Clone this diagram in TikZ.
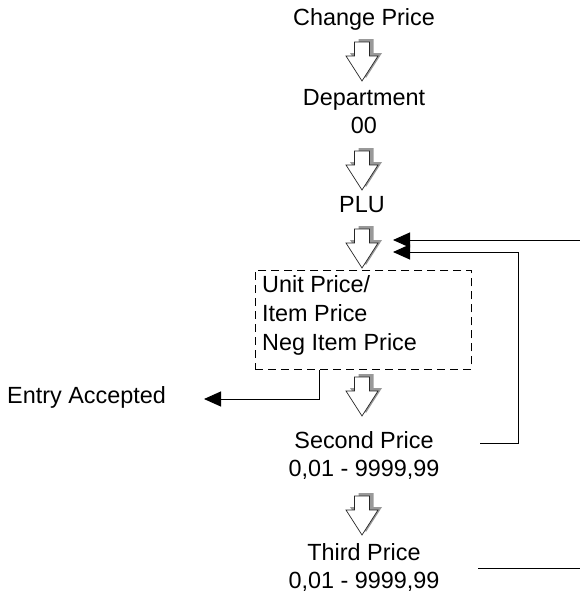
\documentclass[tikz,border=0pt]{standalone}
\usepackage{fontspec}
\setmainfont{Liberation Sans}
\usetikzlibrary{arrows.meta}
\begin{document}
\begin{tikzpicture}[x=1pt,y=-1pt,
  lbl/.style={inner sep=0pt, font=\fontsize{23.4}{28}\selectfont},
  conn/.style={line width=1pt, draw=black},
  tipped/.style={-{Triangle[length=17pt,width=15pt]}},
  dashbox/.style={draw=black, line width=0.9pt, dash pattern=on 8pt off 5pt, inner sep=0pt},
  barrow/.pic={
    \begin{scope}[shift={(4,-3)}]
      \fill[black!40] (-7.5,0) -- (7.5,0) -- (7.5,14) -- (16,14) -- (0,39) -- (-16,14) -- (-7.5,14) -- cycle;
    \end{scope}
    \filldraw[fill=white, draw=black!85, line width=0.7pt]
      (-7.5,0) -- (7.5,0) -- (7.5,14) -- (16,14) -- (0,39) -- (-16,14) -- (-7.5,14) -- cycle;
  }]
\useasboundingbox (0,0) rectangle (580,597);

% texts
\node[lbl, anchor=base] (cp) at (364,25) {Change Price};
\node[lbl, anchor=base] (dept) at (364,105) {\begin{tabular}[t]{@{}c@{}}Department\\00\end{tabular}};
\node[lbl, anchor=base] (plu) at (362,212) {PLU};
\node[dashbox, anchor=north west, minimum width=216pt, minimum height=99pt] (box) at (255,270) {};
\node[inner sep=0pt, font=\fontsize{23.4}{29}\selectfont, anchor=base west] (boxtext) at (262,292)
  {\begin{tabular}[t]{@{}l@{}}Unit Price/\\Item Price\\Neg Item Price\end{tabular}};
\node[lbl, anchor=base] (sp) at (364,448) {\begin{tabular}[t]{@{}c@{}}Second Price\\0,01 - 9999,99\end{tabular}};
\node[lbl, anchor=base] (tp) at (364,560) {\begin{tabular}[t]{@{}c@{}}Third Price\\0,01 - 9999,99\end{tabular}};
\node[lbl, anchor=base west] (ea) at (7,403) {Entry Accepted};

% block arrows
\pic at (362,42) {barrow};
\pic at (362,151) {barrow};
\pic at (362,229) {barrow};
\pic at (362,377) {barrow};
\pic at (362,496) {barrow};

% connectors
\coordinate (rA) at (580,240);
\coordinate (tipA) at (393,240);
\coordinate (spR) at (480,443);
\coordinate (cornerB) at (518,252);
\coordinate (tipB) at (393,252);
\coordinate (eaTip) at (204,399);
\coordinate (tpR) at (478,568);
\coordinate (rB) at (580,568);

\draw[conn, tipped] (rA) -- (tipA);
\draw[conn, tipped] (spR) -| (cornerB) -- (tipB);
\draw[conn, tipped] ([xshift=64pt]box.south west) |- (eaTip);
\draw[conn] (tpR) -- (rB);
\end{tikzpicture}
\end{document}
